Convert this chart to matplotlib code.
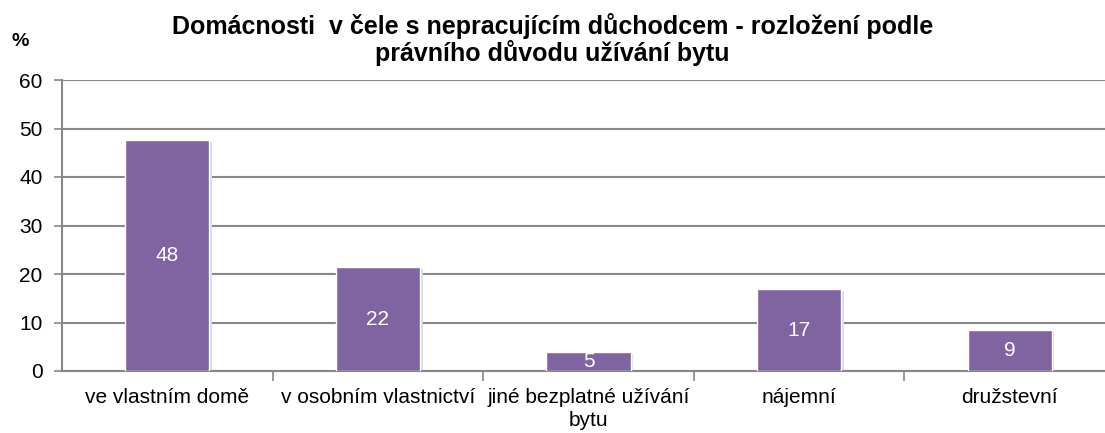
import numpy as np
import matplotlib
matplotlib.use("Agg")
import matplotlib.pyplot as plt
from matplotlib.ticker import FixedLocator

categories = ["ve vlastním domě", "v osobním vlastnictví", "jiné bezplatné užívání\nbytu",
              "nájemní", "družstevní"]
values = [47.6, 21.4, 3.9, 16.9, 8.5]
value_labels = ["48", "22", "5", "17", "9"]
yticks = [0, 10, 20, 30, 40, 50, 60]

plt.rcParams['font.family'] = ['Liberation Sans', 'DejaVu Sans']
grid_col = '#878787'
bar_col = '#8064A2'

fig = plt.figure(figsize=(11.05, 4.33), dpi=100)
ax = fig.add_axes([62 / 1105, 1 - 371 / 433, 1053 / 1105, 291 / 433])

x = np.arange(len(categories))
# light shadow under the bars
ax.bar(x + 0.012, values, width=0.4, bottom=-0.35, color='#dcdcdc', zorder=2)
bars = ax.bar(x, values, width=0.4, color=bar_col, edgecolor='white', linewidth=1.0, zorder=3)
for b, lab in zip(bars, value_labels):
    ax.text(b.get_x() + b.get_width() / 2, b.get_height() / 2, lab,
            ha='center', va='center', color='white', fontsize=15, zorder=4)

ax.set_xlim(-0.5, len(categories) - 0.5)
ax.set_ylim(0, 60)
ax.set_yticks(yticks)
ax.set_yticklabels([str(t) for t in yticks], fontsize=15)
ax.yaxis.grid(True, color=grid_col, linewidth=1.5, zorder=0)
ax.set_axisbelow(True)

ax.xaxis.set_major_locator(FixedLocator(np.arange(0.5, len(categories) - 0.5, 1.0)))
ax.xaxis.set_minor_locator(FixedLocator(x))
ax.set_xticklabels([], minor=False)
ax.set_xticklabels(categories, minor=True, fontsize=15, linespacing=1.3)
ax.tick_params(axis='x', which='major', length=7, width=1.2, color=grid_col, direction='out')
ax.tick_params(axis='x', which='minor', length=0, pad=12)
ax.tick_params(axis='y', length=6, width=1.2, color=grid_col, pad=8)

for s in ['top', 'right']:
    ax.spines[s].set_visible(False)
for s in ['left', 'bottom']:
    ax.spines[s].set_color(grid_col)
    ax.spines[s].set_linewidth(1.5)

fig.text(0.5, 0.969, "Domácnosti  v čele s nepracujícím důchodcem - rozložení podle\nprávního důvodu užívání bytu",
         ha='center', va='top', fontsize=18, fontweight='bold', linespacing=1.05)
fig.text(20 / 1105, 1 - 42 / 433, "%", ha='center', va='center', fontsize=14, fontweight='bold')

fig.savefig("out.png", dpi=100)
